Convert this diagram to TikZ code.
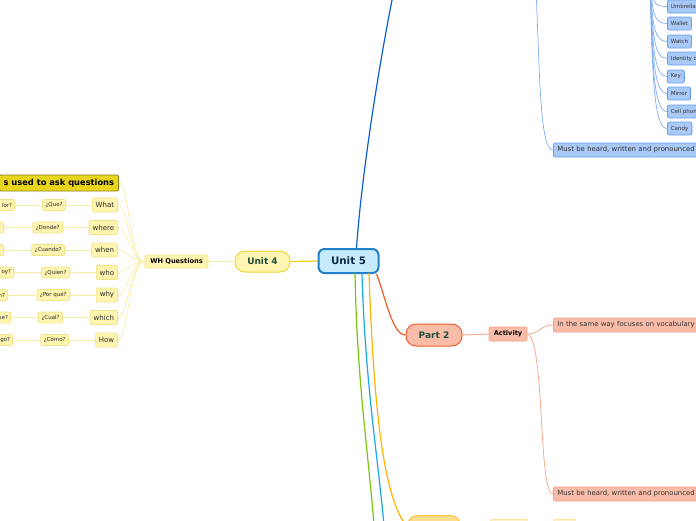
\documentclass[tikz,border=0pt]{standalone}
\usepackage{fontspec}
\setmainfont{DejaVu Sans}
\begin{document}
\begin{tikzpicture}[x=1pt,y=-1pt,
  yel/.style={draw=yelB,fill=yelF,rounded corners=2pt,line width=0.8pt,inner ysep=0pt,text=black!85},
  word/.style={yel,font=\fontsize{7}{8}\selectfont,minimum height=14,inner xsep=3.5pt},
  spa/.style={yel,font=\fontsize{5.5}{6}\selectfont,minimum height=11,inner xsep=3pt},
  cutl/.style={yel,font=\fontsize{5.5}{6}\selectfont,minimum height=11,inner xsep=2.5pt,text width=34,align=right},
  blu/.style={draw=bluB,fill=bluF,rounded corners=2pt,line width=0.8pt,inner ysep=0pt,inner xsep=3.5pt,minimum height=13,font=\fontsize{5.5}{6}\selectfont,text=black!80},
  bluL/.style={blu,minimum height=14,inner xsep=4pt,font=\fontsize{6.9}{7}\selectfont,text width=170,align=left},
  sal/.style={draw=salB,fill=salF,rounded corners=2pt,line width=0.8pt,inner ysep=0pt,inner xsep=4pt,minimum height=14,font=\fontsize{6.9}{7}\selectfont,text=black!80,text width=170,align=left},
  yline/.style={draw=yelL,line width=0.7pt},
  bline/.style={draw=bluL,line width=0.7pt},
  sline/.style={draw=salL,line width=0.8pt}]
\definecolor{yelB}{HTML}{F3E388}
\definecolor{yelF}{HTML}{FFF5B0}
\definecolor{yelL}{HTML}{F8EDA8}
\definecolor{bluB}{HTML}{6C9EEA}
\definecolor{bluF}{HTML}{A9C9F7}
\definecolor{bluL}{HTML}{80AEF0}
\definecolor{salB}{HTML}{F4A286}
\definecolor{salF}{HTML}{F9BCA8}
\definecolor{salL}{HTML}{F9AA90}
\definecolor{darkgreen}{HTML}{1D4D3B}
\useasboundingbox (0,0) rectangle (696,520);
\clip (0,0) rectangle (696,520);

% central
\node (u5) [draw={rgb,255:red,36;green,128;blue,200},fill={rgb,255:red,198;green,236;blue,252},line width=2pt,rounded corners=6pt,minimum width=60,minimum height=24,font=\bfseries\fontsize{10.3}{11}\selectfont,text={rgb,255:red,12;green,40;blue,72}] at (348.5,261) {Unit 5};

% Unit 4 branch
\node (u4) [draw={rgb,255:red,238;green,212;blue,50},fill={rgb,255:red,255;green,246;blue,180},line width=1pt,rounded corners=10pt,minimum width=55,minimum height=21,font=\bfseries\fontsize{9}{10}\selectfont,text=darkgreen] at (262.5,261.5) {Unit 4};
\node (wh) [yel,minimum width=63,minimum height=13,font=\bfseries\fontsize{6.6}{7}\selectfont,text=black] at (176.5,261.5) {WH Questions};
\draw[draw={rgb,255:red,240;green,208;blue,0},line width=1.2pt] (u5.west) -- (u4.east);
\draw[draw=yelL,line width=1pt] (u4.west) -- (wh.east);

\node (title) [draw={rgb,255:red,140;green,128;blue,32},fill={rgb,255:red,232;green,214;blue,30},rounded corners=2pt,line width=0.8pt,minimum height=16,inner ysep=0pt,inner xsep=4.5pt,anchor=east,font=\bfseries\fontsize{8.3}{9}\selectfont,text=black] at (119,183) {s used to ask questions};
\draw[yline] (wh.west) .. controls +(-15,0) and +(10,0) .. (title.east);

\foreach \n/\w/\s/\sx/\l/\lx/\y in {
  a/What/¿Que?/66/lor?/15/205,
  b/where/¿Donde?/63//4/227.5,
  c/when/¿Cuando?/65//4/250,
  d/who/¿Quien?/70/oy?/14/272.5,
  e/why/¿Por qué?/70/n?/8/295,
  f/which/¿Cual?/63/se?/11/317.5,
  g/How/¿Como?/69/go?/13/340}{
  \node (w\n) [word,anchor=east] at (118,\y) {\w};
  \node (s\n) [spa,anchor=east] at (\sx,\y) {\s};
  \node (l\n) [cutl,anchor=east] at (\lx,\y) {\l};
  \draw[yline] (wh.west) .. controls +(-15,0) and +(10,0) .. (w\n.east);
  \draw[yline] (w\n.west) -- (s\n.east);
  \draw[yline] (s\n.west) -- (l\n.east);
}

% top blue branch
\draw[draw={rgb,255:red,10;green,96;blue,210},line width=1.2pt] (u5.north) ++(8,0) .. controls (362,170) and (380,60) .. (393,-5);
\node (mb) [bluL,anchor=west] at (553,150) {Must be heard, written and pronounced};
\coordinate (bp) at (536,-10);
\draw[bline] (bp) .. controls (540,80) and (540,150) .. (mb.west);
\coordinate (ip) at (650,-25);
\foreach \n/\t/\y in {1/Umbrella/6.5,2/Wallet/23.5,3/Watch/41.5,4/Identity card/58.5,5/Key/76.5,6/Mirror/93.5,7/Cell phone/111.5,8/Candy/128.5}{
  \node (i\n) [blu,anchor=west] at (667,\y) {\t};
  \draw[bline] (ip) .. controls (652,{\y*0.6}) and (654,\y) .. (i\n.west);
}

% Part 2
\node (p2) [draw={rgb,255:red,240;green,96;blue,48},fill=salF,line width=1pt,rounded corners=10pt,minimum width=56,minimum height=22,font=\bfseries\fontsize{9}{10}\selectfont,text=darkgreen] at (434,335) {Part 2};
\draw[draw={rgb,255:red,240;green,90;blue,40},line width=1.2pt] (u5.south east) ++(-3,0) .. controls (385,295) and (392,335) .. (p2.west);
\node (act) [sal,text width=,minimum width=38,font=\bfseries\fontsize{6.6}{7}\selectfont,text=black,align=center] at (508,334) {Activity};
\draw[sline,line width=1pt] (p2.east) -- (act.west);
\node (v1) [sal,anchor=west] at (553,325) {In the same way focuses on vocabulary};
\node (v2) [sal,anchor=west] at (553,494) {Must be heard, written and pronounced};
\draw[sline] (act.east) .. controls (540,334) and (540,325) .. (v1.west);
\draw[sline] (act.east) .. controls (545,340) and (538,494) .. (v2.west);

% bottom branches
\draw[draw={rgb,255:red,122;green,196;blue,16},line width=1.2pt] (355,273) .. controls (357,380) and (368,450) .. (374,525);
\draw[draw={rgb,255:red,24;green,168;blue,232},line width=1.2pt] (362,273) .. controls (365,380) and (377,450) .. (384,525);
\node (p3) [draw={rgb,255:red,255;green,194;blue,64},fill={rgb,255:red,253;green,220;blue,140},line width=1pt,rounded corners=10pt,minimum width=53,minimum height=22,anchor=north west] at (407,515) {};
\draw[draw={rgb,255:red,255;green,180;blue,0},line width=1.2pt] (369,273) .. controls (374,420) and (385,500) .. (p3.west);
\node (b2) [draw={rgb,255:red,253;green,226;blue,160},fill={rgb,255:red,255;green,240;blue,200},rounded corners=2pt,line width=0.8pt,minimum width=37,minimum height=14,anchor=north west] at (490,519) {};
\node (b3) [draw={rgb,255:red,253;green,226;blue,160},fill={rgb,255:red,255;green,240;blue,200},rounded corners=2pt,line width=0.8pt,minimum width=22,minimum height=14,anchor=north west] at (553,519) {};
\end{tikzpicture}
\end{document}
